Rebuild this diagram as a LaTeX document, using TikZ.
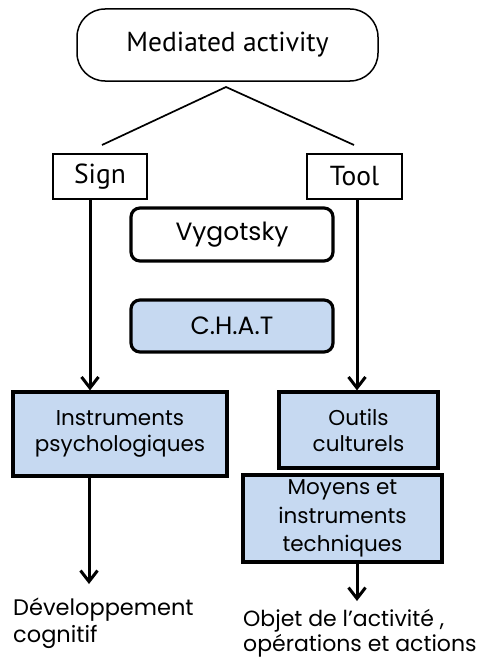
\documentclass[tikz,border=0pt]{standalone}
\usepackage{fontspec}
\setmainfont{Poppins}
\newfontfamily\myriad{PT Sans}
\usetikzlibrary{arrows.meta}
\definecolor{boxblue}{HTML}{C6D9F1}
\tikzset{
  thinbox/.style={draw=black, line width=1.5pt, fill=white, inner sep=0pt, font=\myriad\fontsize{27.5}{30}\selectfont},
  thickbox/.style={draw=black, line width=3.2pt, inner sep=0pt, align=center, font=\fontsize{21.5}{26}\selectfont},
  bluebox/.style={thickbox, fill=boxblue},
  titlebox/.style={thickbox, rounded corners=9pt, minimum width=202pt, font=\fontsize{25}{30}\selectfont},
  conn/.style={line width=1.7pt},
  arr/.style={line width=3pt, -{Straight Barb[length=11pt, width=17pt, line width=3pt]}},
  lbl/.style={inner sep=0pt, align=left, font=\fontsize{22.5}{27}\selectfont}
}
\begin{document}
\begin{tikzpicture}[x=1pt, y=-1pt]
\useasboundingbox (0,0) rectangle (485,661);
\node[thinbox, rounded corners=28pt, minimum width=301pt, minimum height=72pt] (med) at (227.5,45) {Mediated activity};
\node[thinbox, minimum width=94pt, minimum height=45pt] (sign) at (100,176.5) {Sign};
\node[thinbox, minimum width=95pt, minimum height=45pt] (tool) at (354.5,176.5) {Tool};
\node[titlebox, minimum height=53pt] (vyg) at (232,234.5) {Vygotsky};
\node[titlebox, fill=boxblue, minimum height=52pt] (chat) at (232,326) {C.H.A.T};
\node[bluebox, minimum width=214pt, minimum height=84pt] (instr) at (120,434) {Instruments\\psychologiques};
\node[bluebox, minimum width=159pt, minimum height=76pt] (outils) at (358.5,430) {Outils\\culturels};
\node[bluebox, minimum width=199pt, minimum height=87pt, font=\fontsize{21.5}{28.5}\selectfont] (moyens) at (342.5,518.5) {Moyens et\\instruments\\techniques};
\node[lbl, anchor=north west] (dev) at (13,598) {Développement\\cognitif};
\node[lbl, anchor=north west, font=\fontsize{22}{25}\selectfont] (objet) at (243,609) {Objet de l’activité ,\\opérations et actions};
\coordinate (apex) at (226,87);
\coordinate (signtop) at (102,145);
\coordinate (tooltop) at (354,145);
\coordinate (devarr) at (89,584);
\coordinate (objarr) at (357,601);
\draw[conn] (signtop) -- (apex) -- (tooltop);
\draw[arr] ([xshift=-10pt]sign.south) -- ([xshift=-10pt]sign.south |- instr.north);
\draw[arr] ([xshift=2.5pt]tool.south) -- ([xshift=2.5pt]tool.south |- outils.north);
\draw[arr] (instr.south -| devarr) -- (devarr);
\draw[arr] (moyens.south -| objarr) -- (objarr);
\end{tikzpicture}
\end{document}
